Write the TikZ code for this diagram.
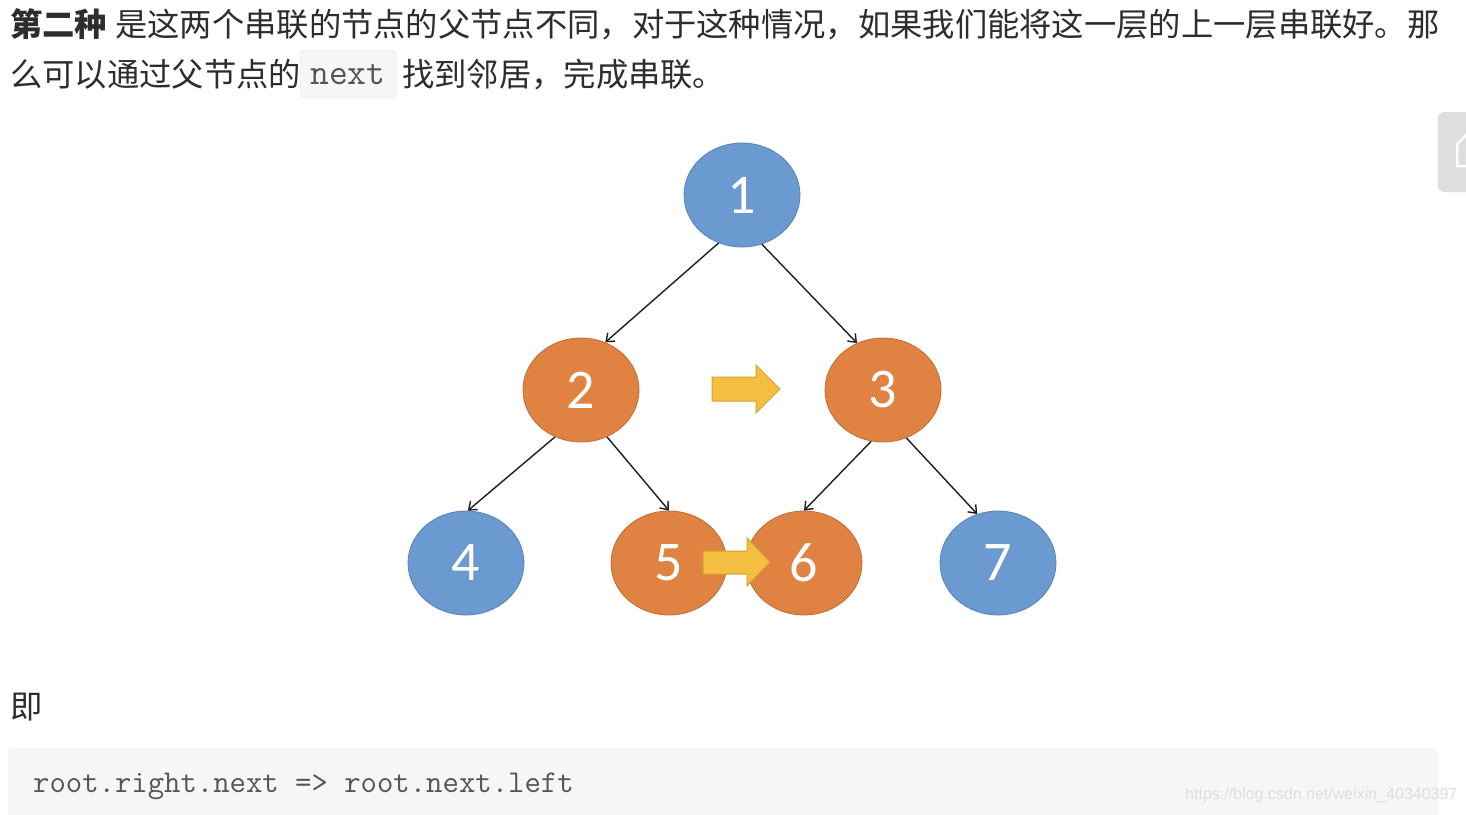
\documentclass[tikz,border=0pt]{standalone}
\usepackage{fontspec}
\setmainfont{Liberation Sans}
\newfontfamily\cjk{Noto Sans CJK SC}
\newfontfamily\numfont{Carlito}
\usetikzlibrary{shapes.geometric,arrows.meta}
\definecolor{nblue}{RGB}{106,154,208}
\definecolor{nblueb}{RGB}{88,130,182}
\definecolor{norange}{RGB}{224,130,66}
\definecolor{noranged}{RGB}{192,108,52}
\definecolor{yfill}{RGB}{244,190,64}
\definecolor{ydraw}{RGB}{212,164,46}
\definecolor{edgec}{RGB}{30,30,30}
\definecolor{textc}{RGB}{45,45,45}
\definecolor{codec}{RGB}{85,85,85}
\definecolor{codebg}{RGB}{246,246,246}
\definecolor{boxd}{RGB}{230,230,230}
\definecolor{wmc}{RGB}{222,222,222}
\definecolor{tabc}{RGB}{222,222,222}
\begin{document}
\begin{tikzpicture}[x=1pt,y=-1pt,
  tnode/.style={ellipse,minimum width=116pt,minimum height=104pt,inner sep=0pt,line width=0.8pt,text=white,font=\numfont\fontsize{56}{56}\selectfont},
  bluen/.style={tnode,fill=nblue,draw=nblueb},
  orangen/.style={tnode,fill=norange,draw=noranged},
  treeedge/.style={draw=edgec,line width=1.4pt,-{Straight Barb[length=7pt,width=11pt,line width=1.4pt]}},
  yarrow/.style={fill=yfill,draw=ydraw,line width=1pt,line join=miter},
  txt/.style={anchor=base west,inner sep=0pt,text=textc,font=\cjk\fontsize{32.3}{32.3}\selectfont},
  codetxt/.style={anchor=base west,inner sep=0pt,text=codec}]
\useasboundingbox (0,0) rectangle (1466,814);
\fill[white] (0,0) rectangle (1466,814);
% top paragraph
\node[txt] (l1a) at (10,36) {\bfseries 第二种};
\node[txt] (l1b) at (115,36) {是这两个串联的节点的父节点不同，对于这种情况，如果我们能将这一层的上一层串联好。那};
\node[txt] (l2a) at (10,86) {么可以通过父节点的};
\node[draw=boxd,fill=codebg,rounded corners=4pt,minimum width=96pt,minimum height=47pt,anchor=north west,inner sep=0pt] (nb) at (300,50) {};
\node[codetxt,font=\ttfamily\fontsize{36.5}{36.5}\selectfont] (nt) at (310,84) {next};
\node[txt] (l2b) at (402,86) {找到邻居，完成串联。};
% side tab
\fill[tabc,rounded corners=6pt] (1438,112) rectangle (1480,192);
\draw[white,line width=2.5pt] (1467,134) -- (1457,144) -- (1457,166) -- (1467,166);
% tree
\node[bluen] (n1) at (742,195) {1};
\node[orangen] (n2) at (581,390) {2};
\node[orangen] (n3) at (883,390) {3};
\node[bluen] (n4) at (466,563) {4};
\node[orangen] (n5) at (669,563) {5};
\node[orangen] (n6) at (804,563) {6};
\node[bluen] (n7) at (998,563) {7};
\draw[treeedge] (n1.244) -- (n2.63);
\draw[treeedge] (n1.292) -- (n3.119);
\draw[treeedge] (n2.241) -- (n4.88);
\draw[treeedge] (n2.299) -- (n5.90);
\draw[treeedge] (n3.257) -- (n6.90);
\draw[treeedge] (n3.296) -- (n7.113);
% yellow arrows
\draw[yarrow] (712,377) -- (756,377) -- (756,365) -- (780,389) -- (756,413) -- (756,401) -- (712,401) -- cycle;
\draw[yarrow] (703,551) -- (747,551) -- (747,538) -- (770,562) -- (747,586) -- (747,574) -- (703,574) -- cycle;
% bottom
\node[txt] (ji) at (10,718) {即};
\fill[codebg,rounded corners=4pt] (8,748) rectangle (1438,826);
\node[codetxt,font=\ttfamily\fontsize{31.8}{31.8}\selectfont] (code) at (33,792) {root.right.next => root.next.left};
\node[anchor=base west,inner sep=0pt,text=wmc,font=\fontsize{16}{16}\selectfont] (wm) at (1185,799) {https://blog.csdn.net/weixin\_40340397};
\end{tikzpicture}
\end{document}
